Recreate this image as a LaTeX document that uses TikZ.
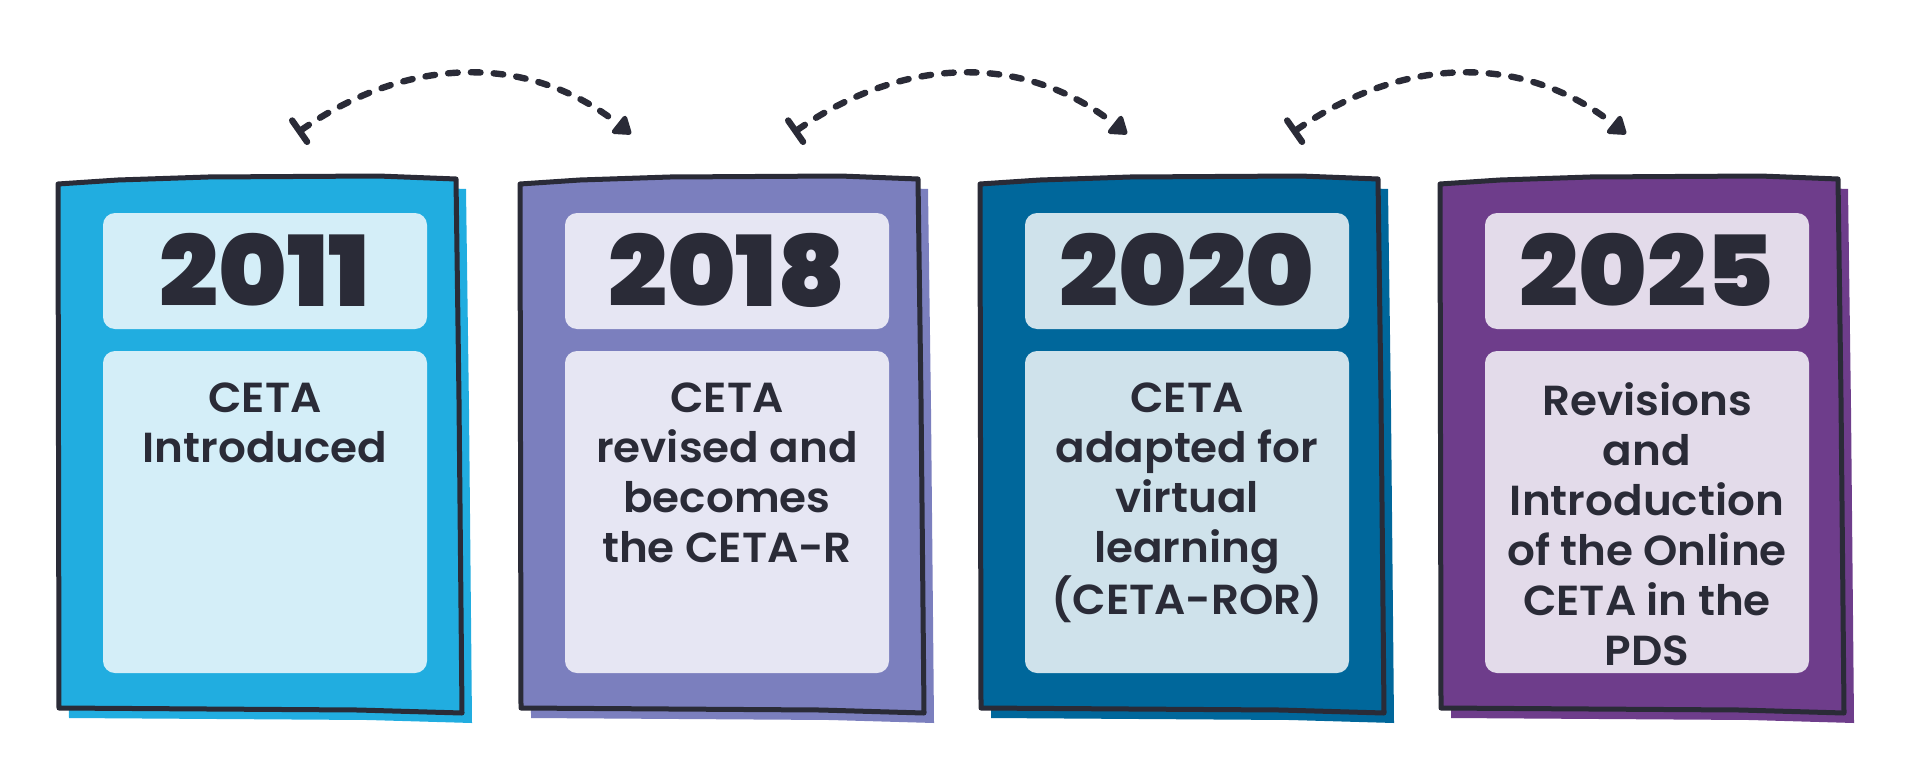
\documentclass[tikz,border=0pt]{standalone}
\usepackage{fontspec}
\usetikzlibrary{arrows.meta}
\newfontfamily\bodyfont{Poppins SemiBold}[FakeStretch=1.04]
\newfontfamily\yearfont{Poppins Black}[FakeStretch=1.06]
\definecolor{ink}{HTML}{2A2B37}
\definecolor{cA}{HTML}{21ADE0}\definecolor{iA}{HTML}{D4EEF8}
\definecolor{cB}{HTML}{7B7FBE}\definecolor{iB}{HTML}{E6E6F3}
\definecolor{cC}{HTML}{00679B}\definecolor{iC}{HTML}{CFE2EB}
\definecolor{cD}{HTML}{6E3D8B}\definecolor{iD}{HTML}{E3DBEA}
\tikzset{
  yearstyle/.style={font=\yearfont\fontsize{49}{52}\selectfont, text=ink, inner sep=0pt, anchor=center},
  bodystyle/.style={font=\bodyfont\fontsize{21}{25}\selectfont, text=ink, inner sep=0pt, align=center, anchor=north},
  cardline/.style={draw=ink, line width=2.5pt, line join=round, line cap=round},
  linkarrow/.style={draw=ink, line width=3.2pt, line cap=round, dash pattern=on 4.8pt off 6.6pt,
    {Bar[width=13pt,line width=3.2pt,line cap=round]}-{Triangle[length=9.5pt,width=12.5pt,round]}}
}
\newcommand\tlcard[6]{%
  \begin{scope}[shift={(#1,0)}]
    \fill[#2] (10,194) -- (70,190) -- (160,187) -- (330,186) -- (408,189) -- (411,410) -- (414,723) -- (310,720) -- (160,719) -- (11,718) -- cycle;
    \path[cardline, fill=#2] (0,184) -- (60,180) -- (150,177) -- (320,176) -- (398,179) -- (401,400) -- (404,713) -- (300,710) -- (150,709) -- (1,708) -- cycle;
    \fill[#3, rounded corners=6pt] (45,213) rectangle (369,329);
    \fill[#3, rounded corners=6pt] (45,351) rectangle (369,673);
    \node[yearstyle] (#6y) at (207,270) {#4};
    \node[bodystyle] (#6t) at (207,382) {#5};
  \end{scope}}
\begin{document}
\begin{tikzpicture}[x=0.5pt,y=-0.5pt]
\useasboundingbox (0,0) rectangle (1920,781);
\fill[white] (0,0) rectangle (1920,781);
\tlcard{58}{cA}{iA}{2011}{CETA\\Introduced}{a}
\tlcard{520}{cB}{iB}{2018}{CETA\\revised and\\becomes\\the CETA-R}{b}
\tlcard{980}{cC}{iC}{2020}{CETA\\adapted for\\virtual\\learning\\(CETA-ROR)}{c}
\tlcard{1440}{cD}{iD}{2025}{Revisions\\and\\Introduction\\of the Online\\CETA in the\\PDS}{d}
\foreach \dx/\nm in {0/p,496/q,995/r}{
  \coordinate (\nm s) at (297+\dx,133);
  \coordinate (\nm e) at (631+\dx,134);
  \draw[linkarrow] (\nm s) .. controls (410+\dx,54) and (530+\dx,54) .. (\nm e);
}
\end{tikzpicture}
\end{document}
